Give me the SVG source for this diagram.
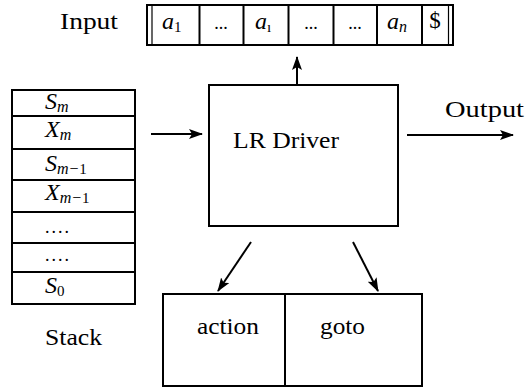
<svg xmlns="http://www.w3.org/2000/svg" width="527" height="387" viewBox="0 0 527 387">
  <style>
    .box { fill: none; stroke: #000; stroke-width: 2; }
    .thin { fill: none; stroke: #000; stroke-width: 1.2; }
    .edge { fill: none; stroke: #000; stroke-width: 2; }
    .label { font-family: "Liberation Serif", "DejaVu Serif", serif; font-size: 23px; fill: #000; }
    .math { font-family: "Liberation Serif", "DejaVu Serif", serif; font-style: italic; font-size: 24px; fill: #000; }
    .sub { font-style: normal; font-size: 15px; }
    .subi { font-size: 16px; }
    .dots { font-family: "Liberation Serif", "DejaVu Serif", serif; font-size: 18px; fill: #000; }
  </style>
  <defs>
    <marker id="arrow" viewBox="0 0 14 10" refX="13" refY="5" markerWidth="14" markerHeight="10" markerUnits="userSpaceOnUse" orient="auto">
      <path d="M0,0 L14,5 L0,10 L3,5 Z" fill="#000"/>
    </marker>
  </defs>

  <rect width="527" height="387" fill="#fff"/>

  <!-- input tape -->
  <g id="input">
    <text class="label" x="60" y="29" textLength="58" lengthAdjust="spacingAndGlyphs">Input</text>
    <rect class="box" x="147" y="5" width="306" height="40"/>
    <line class="thin" x1="152" y1="5" x2="152" y2="45"/>
    <line class="thin" x1="448.5" y1="5" x2="448.5" y2="45"/>
    <line class="box" x1="199.5" y1="5" x2="199.5" y2="45"/>
    <line class="box" x1="243.5" y1="5" x2="243.5" y2="45"/>
    <line class="box" x1="288.5" y1="5" x2="288.5" y2="45"/>
    <line class="box" x1="333.5" y1="5" x2="333.5" y2="45"/>
    <line class="box" x1="377" y1="5" x2="377" y2="45"/>
    <line class="box" x1="422" y1="5" x2="422" y2="45"/>
    <text class="math" x="162" y="29">a<tspan class="sub" dy="3">1</tspan></text>
    <text class="dots" x="221" y="29" text-anchor="middle">...</text>
    <text class="math" x="255" y="29">a<tspan class="sub" dy="3">ı</tspan></text>
    <text class="dots" x="311" y="29" text-anchor="middle">...</text>
    <text class="dots" x="355" y="29" text-anchor="middle">...</text>
    <text class="math" x="387" y="29">a<tspan class="subi" dy="3">n</tspan></text>
    <text class="label" x="435" y="28" text-anchor="middle" font-size="20">$</text>
  </g>

  <!-- parse stack -->
  <g id="stack">
    <rect class="box" x="12" y="90" width="123" height="214"/>
    <line class="box" x1="12" y1="116" x2="135" y2="116"/>
    <line class="box" x1="12" y1="149" x2="135" y2="149"/>
    <line class="box" x1="12" y1="180" x2="135" y2="180"/>
    <line class="box" x1="12" y1="212" x2="135" y2="212"/>
    <line class="box" x1="12" y1="243" x2="135" y2="243"/>
    <line class="box" x1="12" y1="272" x2="135" y2="272"/>
    <text class="math" x="45" y="109">S<tspan class="subi" dy="3">m</tspan></text>
    <text class="math" x="45" y="137">X<tspan class="subi" dy="3">m</tspan></text>
    <text class="math" x="45" y="171">S<tspan class="subi" dy="3">m−</tspan><tspan class="sub">1</tspan></text>
    <text class="math" x="45" y="200">X<tspan class="subi" dy="3">m−</tspan><tspan class="sub">1</tspan></text>
    <text class="dots" x="45" y="233" letter-spacing="2">....</text>
    <text class="dots" x="45" y="261" letter-spacing="2">....</text>
    <text class="math" x="45" y="293">S<tspan class="sub" dy="3">0</tspan></text>
    <text class="label" x="45" y="345" textLength="57" lengthAdjust="spacingAndGlyphs">Stack</text>
  </g>

  <!-- driver program -->
  <g id="driver">
    <rect class="box" x="209" y="85" width="189" height="141"/>
    <text class="label" x="233" y="148" textLength="106" lengthAdjust="spacingAndGlyphs">LR Driver</text>
  </g>

  <!-- output label -->
  <g id="output">
    <text class="label" x="445" y="117" textLength="79" lengthAdjust="spacingAndGlyphs">Output</text>
  </g>

  <!-- parsing table -->
  <g id="table">
    <rect class="box" x="163" y="294" width="259" height="92"/>
    <line class="box" x1="285" y1="294" x2="285" y2="386"/>
    <text class="label" x="197" y="334" textLength="62" lengthAdjust="spacingAndGlyphs">action</text>
    <text class="label" x="320" y="334" textLength="45" lengthAdjust="spacingAndGlyphs">goto</text>
  </g>

  <!-- connectors -->
  <g id="connectors">
    <line class="edge" x1="297" y1="85" x2="297" y2="57" marker-end="url(#arrow)"/>
    <line class="edge" x1="151" y1="134" x2="202" y2="134" marker-end="url(#arrow)"/>
    <line class="edge" x1="407" y1="135" x2="513" y2="135" marker-end="url(#arrow)"/>
    <line class="edge" x1="251" y1="242" x2="218" y2="291" marker-end="url(#arrow)"/>
    <line class="edge" x1="353" y1="242" x2="378" y2="291" marker-end="url(#arrow)"/>
  </g>
</svg>
